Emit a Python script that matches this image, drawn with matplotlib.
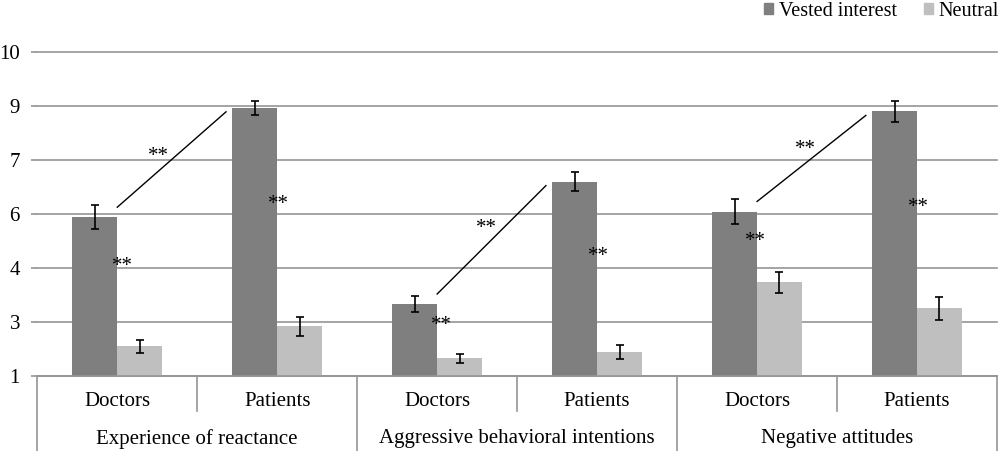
import matplotlib
matplotlib.use('Agg')
import matplotlib.pyplot as plt
import numpy as np
from matplotlib.patches import Patch
from matplotlib.lines import Line2D

# ---------------- data ----------------
groups = ["Experience of reactance", "Aggressive behavioral intentions", "Negative attitudes"]
subgroups = ["Doctors", "Patients"]
series_names = ["Vested interest", "Neutral"]
vested = [5.40, 8.44, 2.99, 6.39, 5.56, 8.34]
vested_err = [0.33, 0.20, 0.22, 0.26, 0.35, 0.29]
neutral = [1.82, 2.37, 1.48, 1.65, 3.59, 2.87]
neutral_err = [0.18, 0.26, 0.125, 0.19, 0.30, 0.31]
ytick_values = [1, 2.5, 4, 5.5, 7, 8.5, 10]
ytick_labels = ["1", "3", "4", "6", "7", "9", "10"]
sig_label = "**"

# ---------------- style ----------------
plt.rcParams['font.family'] = ['Liberation Serif', 'DejaVu Serif']
dark = '#7f7f7f'
light = '#bfbfbf'
gridc = '#959595'

fig = plt.figure(figsize=(10, 4.51), dpi=100)
ax_bottom_px = 375.7
ax_top_px = 51.7
ax_left_px = 37.3
ax_right_px = 997.0
ax_h_px = ax_bottom_px - ax_top_px
ax = fig.add_axes([ax_left_px / 1000, 1 - ax_bottom_px / 451,
                   (ax_right_px - ax_left_px) / 1000, ax_h_px / 451])

n = len(vested)
x = np.arange(n)
bw = 0.28
ax.bar(x - bw, vested, width=bw, align='edge', color=dark, zorder=2)
ax.bar(x, neutral, width=bw, align='edge', color=light, zorder=2)
ax.errorbar(x - bw / 2, vested, yerr=vested_err, fmt='none', ecolor='black',
            elinewidth=1.2, capsize=3, capthick=1.2, zorder=3)
ax.errorbar(x + bw / 2, neutral, yerr=neutral_err, fmt='none', ecolor='black',
            elinewidth=1.2, capsize=3, capthick=1.2, zorder=3)

ax.set_xlim(-0.5, n - 0.5)
ax.set_ylim(1, 10)
ax.set_yticks(ytick_values)
ax.set_yticklabels(ytick_labels)
ax.yaxis.grid(True, color=gridc, lw=1.2)
for gl in ax.get_ygridlines():
    gl.set_clip_on(False)
ax.set_axisbelow(True)
for s in ['left', 'top', 'right']:
    ax.spines[s].set_visible(False)
ax.spines['bottom'].set_color(gridc)
ax.spines['bottom'].set_linewidth(1.2)
ax.tick_params(axis='y', length=4.5, color=gridc, width=1.2, pad=8, labelsize=15)
ax.set_xticks([])

# ---------------- significance annotations ----------------
# layout: how far below the doctors bar top the star sits, and small x nudges
doc_star_drop = [1.21, 0.42, 0.68]
doc_star_dx = [0.03, 0.03, -0.01]
top_star_rise = [0.55, 0.62, 0.55]
top_star_dx = [0.26, 0.31, 0.30]
star_fs = 15
for g in range(len(groups)):
    i_doc = 2 * g
    i_pat = 2 * g + 1
    x0, y0 = i_doc, vested[i_doc] + 0.28
    x1, y1 = i_pat - 0.32, vested[i_pat] - 0.11
    ax.plot([x0, x1], [y0, y1], color='black', lw=1.0, zorder=4)
    # star above the connecting line
    xs = x0 + top_star_dx[g]
    ys = y0 + (y1 - y0) * (top_star_dx[g] / (x1 - x0)) + top_star_rise[g]
    ax.annotate(sig_label, (xs, ys), xytext=(0, -7.5), textcoords='offset points',
                ha='center', va='baseline', fontsize=star_fs, zorder=5)
    # star beside doctors bar and patients bar
    ax.annotate(sig_label, (i_doc + doc_star_dx[g], vested[i_doc] - doc_star_drop[g]),
                xytext=(0, -7.5), textcoords='offset points', ha='center', va='baseline',
                fontsize=star_fs, zorder=5)
    ax.annotate(sig_label, (i_pat + 0.01, vested[i_pat] * 0.70), xytext=(0, -7.5),
                textcoords='offset points', ha='center', va='baseline', fontsize=star_fs,
                zorder=5)

# ---------------- two-level category axis ----------------
trans = ax.get_xaxis_transform()
short = -35.0 / ax_h_px
full = -(451 - ax_bottom_px) / ax_h_px
for k in range(n + 1):
    xb = k - 0.5
    yb = full if k % 2 == 0 else short
    ax.add_line(Line2D([xb, xb], [0, yb], transform=trans, color=gridc, lw=1.2, clip_on=False))
for i in range(n):
    ax.text(i, -26.0 / ax_h_px, subgroups[i % 2], transform=trans, ha='center', va='center',
            fontsize=15)
for g, name in enumerate(groups):
    ax.text(2 * g + 0.5, -63.0 / ax_h_px, name, transform=trans, ha='center', va='center',
            fontsize=15)

# ---------------- legend ----------------
handles = [Patch(color=dark, label=series_names[0]), Patch(color=light, label=series_names[1])]
fig.legend(handles=handles, loc='upper right', bbox_to_anchor=(0.999, 0.996), ncol=2,
           frameon=False, fontsize=14.5, handlelength=0.45, handleheight=0.45,
           handletextpad=0.3, columnspacing=1.3, borderpad=0, borderaxespad=0)

fig.savefig('out.png', dpi=100)
